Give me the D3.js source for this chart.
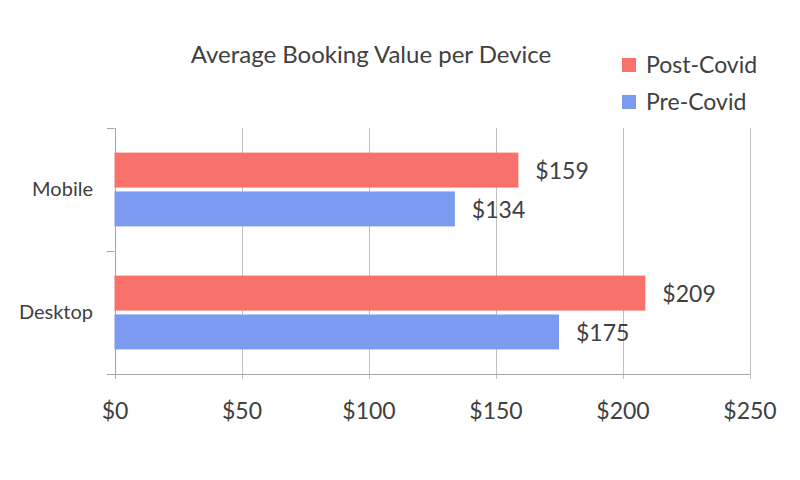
<!DOCTYPE html>
<html>
<head>
<meta charset="utf-8">
<script src="https://cdn.jsdelivr.net/npm/d3@7"></script>
<style>
  html, body { margin: 0; padding: 0; background: #ffffff; }
  svg { display: block; font-family: Lato, "Open Sans", sans-serif; }
</style>
</head>
<body>
<svg id="chart" width="800" height="480"></svg>
<script>
const categories = ["Mobile", "Desktop"];
const seriesNames = ["Post-Covid", "Pre-Covid"];
const postCovid = [159, 209];
const preCovid = [134, 175];
const tickValues = [0, 50, 100, 150, 200, 250];
const titleText = "Average Booking Value per Device";
const colors = ["#F8716A", "#7B9AF0"];

const seriesValues = [postCovid, preCovid];
const rows = [];
categories.forEach((c, ci) => {
  seriesNames.forEach((s, si) => rows.push({ category: c, series: s, value: seriesValues[si][ci], si }));
});

const svg = d3.select("#chart");
const textColor = "#404040";

const x = d3.scaleLinear().domain([0, 250]).range([114.5, 749.5]);
const y0 = d3.scaleBand().domain(categories).range([128, 374]).paddingInner(0.4).paddingOuter(0.2);
const y1 = d3.scaleBand().domain(seriesNames).range([0, y0.bandwidth()]).paddingInner(0.1);

// gridlines + x ticks
const xAxis = d3.axisBottom(x).tickValues(tickValues).tickSize(0).tickFormat(d => "$" + d);
svg.append("g").selectAll("line.grid").data(tickValues).join("line")
  .attr("x1", d => Math.round(x(d)) + 0.5).attr("x2", d => Math.round(x(d)) + 0.5)
  .attr("y1", 128).attr("y2", 379)
  .attr("stroke", d => d === 0 ? "#a6a6a6" : "#bfbfbf").attr("stroke-width", 1);

// y axis ticks (boundaries)
const yBounds = [128, 251, 374];
svg.append("g").selectAll("line").data(yBounds).join("line")
  .attr("x1", 107).attr("x2", 114.5).attr("y1", d => d + 0.5).attr("y2", d => d + 0.5)
  .attr("stroke", "#a6a6a6");
// bottom axis line
svg.append("line").attr("x1", 107).attr("x2", 750).attr("y1", 374.5).attr("y2", 374.5).attr("stroke", "#a6a6a6");

// x tick labels via axis
const gx = svg.append("g").attr("transform", "translate(0,394)").call(xAxis);
gx.select(".domain").remove();
gx.selectAll("text").attr("fill", textColor).attr("font-size", 23).attr("font-family", "Lato, sans-serif").attr("dy", "0.95em");

// category labels via axis
const yAxis = d3.axisLeft(y0).tickSize(0).tickPadding(0);
const gy = svg.append("g").attr("transform", "translate(93,0)").call(yAxis);
gy.select(".domain").remove();
gy.selectAll("text").attr("fill", textColor).attr("font-size", 20).attr("font-family", "Lato, sans-serif");

// bars
svg.append("g").selectAll("rect").data(rows).join("rect")
  .attr("x", x(0))
  .attr("y", d => y0(d.category) + y1(d.series))
  .attr("width", d => x(d.value) - x(0))
  .attr("height", y1.bandwidth())
  .attr("fill", d => colors[d.si]);

// data labels
svg.append("g").selectAll("text").data(rows).join("text")
  .attr("x", d => x(d.value) + 17)
  .attr("y", d => y0(d.category) + y1(d.series) + y1.bandwidth() / 2)
  .attr("dy", "0.38em")
  .attr("font-size", 23)
  .attr("fill", textColor)
  .text(d => "$" + d.value);

// title
svg.append("text").attr("x", 371).attr("y", 63).attr("text-anchor", "middle")
  .attr("font-size", 24).attr("fill", textColor).text(titleText);

// legend
const legend = svg.append("g").selectAll("g").data(seriesNames).join("g")
  .attr("transform", (d, i) => `translate(622,${58 + i * 37})`);
legend.append("rect").attr("width", 14).attr("height", 14).attr("fill", (d, i) => colors[i]);
legend.append("text").attr("x", 24).attr("y", 15).attr("font-size", 23).attr("fill", textColor).text(d => d);
</script>
</body>
</html>
